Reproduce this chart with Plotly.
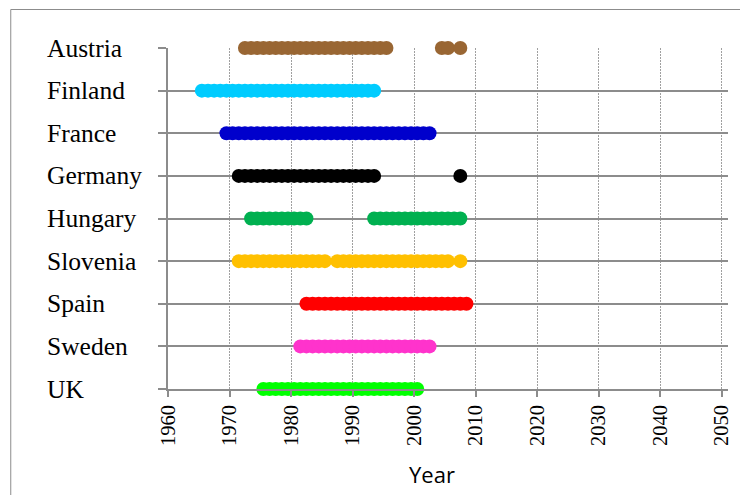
import plotly.graph_objects as go

# Countries, top to bottom
countries = ["Austria", "Finland", "France", "Germany", "Hungary",
             "Slovenia", "Spain", "Sweden", "UK"]

# Years with an observation, per country
austria = [1972, 1973, 1974, 1975, 1976, 1977, 1978, 1979, 1980, 1981, 1982, 1983,
           1984, 1985, 1986, 1987, 1988, 1989, 1990, 1991, 1992, 1993, 1994, 1995,
           2004, 2005, 2007]
finland = [1965, 1966, 1967, 1968, 1969, 1970, 1971, 1972, 1973, 1974, 1975, 1976,
           1977, 1978, 1979, 1980, 1981, 1982, 1983, 1984, 1985, 1986, 1987, 1988,
           1989, 1990, 1991, 1992, 1993]
france = [1969, 1970, 1971, 1972, 1973, 1974, 1975, 1976, 1977, 1978, 1979, 1980,
          1981, 1982, 1983, 1984, 1985, 1986, 1987, 1988, 1989, 1990, 1991, 1992,
          1993, 1994, 1995, 1996, 1997, 1998, 1999, 2000, 2001, 2002]
germany = [1971, 1972, 1973, 1974, 1975, 1976, 1977, 1978, 1979, 1980, 1981, 1982,
           1983, 1984, 1985, 1986, 1987, 1988, 1989, 1990, 1991, 1992, 1993, 2007]
hungary = [1973, 1974, 1975, 1976, 1977, 1978, 1979, 1980, 1981, 1982,
           1993, 1994, 1995, 1996, 1997, 1998, 1999, 2000, 2001, 2002, 2003, 2004,
           2005, 2006, 2007]
slovenia = [1971, 1972, 1973, 1974, 1975, 1976, 1977, 1978, 1979, 1980, 1981, 1982,
            1983, 1984, 1985, 1987, 1988, 1989, 1990, 1991, 1992, 1993, 1994, 1995,
            1996, 1997, 1998, 1999, 2000, 2001, 2002, 2003, 2004, 2005, 2007]
spain = [1982, 1983, 1984, 1985, 1986, 1987, 1988, 1989, 1990, 1991, 1992, 1993,
         1994, 1995, 1996, 1997, 1998, 1999, 2000, 2001, 2002, 2003, 2004, 2005,
         2006, 2007, 2008]
sweden = [1981, 1982, 1983, 1984, 1985, 1986, 1987, 1988, 1989, 1990, 1991, 1992,
          1993, 1994, 1995, 1996, 1997, 1998, 1999, 2000, 2001, 2002]
uk = [1975, 1976, 1977, 1978, 1979, 1980, 1981, 1982, 1983, 1984, 1985, 1986,
      1987, 1988, 1989, 1990, 1991, 1992, 1993, 1994, 1995, 1996, 1997, 1998,
      1999, 2000]

series = [austria, finland, france, germany, hungary, slovenia, spain, sweden, uk]
colors = ["#996633", "#00CCFF", "#0000CC", "#000000", "#00B050",
          "#FFC000", "#FF0000", "#FF33CC", "#00FF00"]

x_ticks = [1960, 1970, 1980, 1990, 2000, 2010, 2020, 2030, 2040, 2050]

# Figure geometry (pixels)
W, H = 740, 495
L, R, T, B = 168, 7.5, 48, 106
pw, ph = W - L - R, H - T - B

def px_to_paper_x(px):
    return (px - L) / pw

def px_to_paper_y(py):
    return (H - B - py) / ph

fig = go.Figure()
n = len(countries)
for i, (name, years, col) in enumerate(zip(countries, series, colors)):
    row = n - 1 - i
    fig.add_trace(go.Scatter(
        x=[y + 0.5 for y in years],          # each year drawn at mid-year
        y=[row] * len(years),
        mode="markers",
        name=name,
        marker=dict(size=14, color=col, line=dict(width=0)),
        cliponaxis=False,
        hovertemplate=name + ": %{x:.0f}<extra></extra>",
    ))

# Country labels, left aligned
for i, name in enumerate(countries):
    fig.add_annotation(
        x=px_to_paper_x(44), xref="paper", xanchor="left",
        y=n - 1 - i, yref="y", yanchor="middle",
        text=name, showarrow=False,
        font=dict(family="Liberation Serif", size=25.5, color="#000000"),
    )

# Axis title
fig.add_annotation(
    x=px_to_paper_x(434.5), xref="paper", xanchor="center",
    y=px_to_paper_y(474), yref="paper", yanchor="middle",
    text="Year", showarrow=False,
    font=dict(family="Open Sans", size=22, color="#000000"),
)

# Outer chart frame
fig.add_shape(
    type="rect", xref="paper", yref="paper",
    x0=px_to_paper_x(9.5), x1=px_to_paper_x(760),
    y0=px_to_paper_y(9.5), y1=px_to_paper_y(520),
    line=dict(color="#8c8c8c", width=1), fillcolor="rgba(0,0,0,0)", layer="below",
)

fig.update_layout(
    width=W, height=H,
    margin=dict(l=L, r=R, t=T, b=B, pad=0),
    paper_bgcolor="white", plot_bgcolor="white",
    showlegend=False,
)

fig.update_xaxes(
    range=[1960, 2051],
    tickvals=x_ticks, ticktext=[str(v) for v in x_ticks],
    tickangle=-90,
    tickfont=dict(family="Liberation Serif", size=20.5, color="#000000"),
    ticks="outside", ticklen=6, tickwidth=1.5, tickcolor="#8c8c8c",
    showgrid=True, gridcolor="#a0a0a0", gridwidth=1.2, griddash="1.5px,1.5px",
    showline=True, linecolor="#8c8c8c", linewidth=1.5,
    zeroline=False,
)

fig.update_yaxes(
    range=[0, n - 1],
    tickvals=list(range(n)), showticklabels=False,
    ticks="outside", ticklen=8, tickwidth=1.5, tickcolor="#8c8c8c",
    showgrid=True, gridcolor="#8c8c8c", gridwidth=1.5,
    showline=True, linecolor="#8c8c8c", linewidth=1.5,
    zeroline=False,
)

fig.write_html("out.html")
